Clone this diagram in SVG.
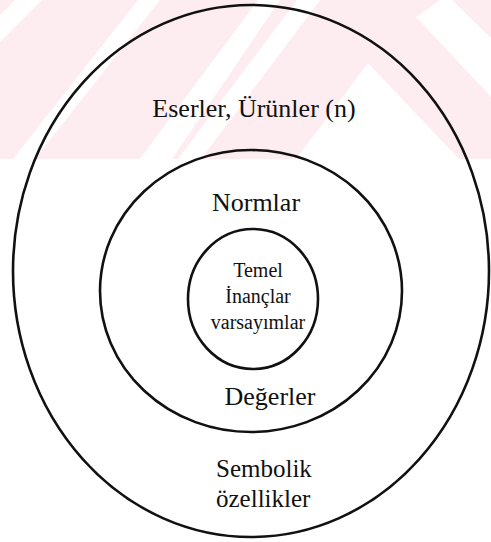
<svg xmlns="http://www.w3.org/2000/svg" width="491" height="542" viewBox="0 0 491 542">
<style>
.ring{fill:none;stroke:#111;stroke-width:2.6}
text{font-family:'Liberation Serif','DejaVu Serif',serif;fill:#111}
.wm{fill:#fff}
</style>
<rect x="0" y="0" width="491" height="542" fill="#fff"/>
<g id="watermark">
<rect x="0" y="0" width="491" height="159" fill="#fdedf0"/>
<polygon class="wm" points="0,15 15,0 42,0 0,42"/>
<polygon class="wm" points="138,0 160,0 35,159 13,159"/>
<polygon class="wm" points="258,0 280,0 172,159 140,159"/>
<polygon class="wm" points="297,0 320,0 201,159 178,159"/>
<polygon class="wm" points="368,63 459,159 296,159"/>
<polygon class="wm" points="416,17 440,0 452,0 491,38 491,97"/>
</g>
<g id="outer">
<ellipse class="ring" cx="251" cy="271" rx="238" ry="266"/>
<text font-family="Liberation Serif, DejaVu Serif, serif" x="254" y="117" font-size="26" text-anchor="middle">Eserler, Ürünler (n)</text>
<text font-family="Liberation Serif, DejaVu Serif, serif" x="216" y="477" font-size="25">Sembolik</text>
<text font-family="Liberation Serif, DejaVu Serif, serif" x="216" y="507" font-size="25">özellikler</text>
</g>
<g id="middle">
<ellipse class="ring" cx="251" cy="291" rx="151" ry="141"/>
<text font-family="Liberation Serif, DejaVu Serif, serif" x="256" y="211" font-size="26" text-anchor="middle">Normlar</text>
<text font-family="Liberation Serif, DejaVu Serif, serif" x="270" y="405" font-size="26" text-anchor="middle">Değerler</text>
</g>
<g id="inner">
<ellipse class="ring" cx="253" cy="299" rx="65" ry="70"/>
<text font-family="Liberation Serif, DejaVu Serif, serif" x="258" y="277" font-size="20" text-anchor="middle">Temel</text>
<text font-family="Liberation Serif, DejaVu Serif, serif" x="258" y="303" font-size="20" text-anchor="middle">İnançlar</text>
<text font-family="Liberation Serif, DejaVu Serif, serif" x="258" y="329" font-size="20" text-anchor="middle">varsayımlar</text>
</g>
<g id="connectors"></g>
</svg>
